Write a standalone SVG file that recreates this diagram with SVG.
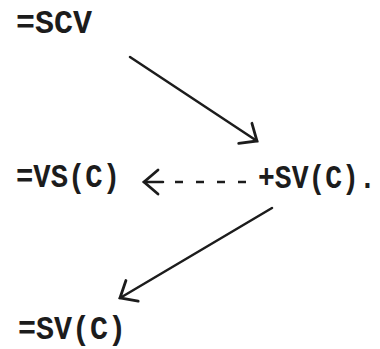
<svg xmlns="http://www.w3.org/2000/svg" width="380" height="349" viewBox="0 0 380 349">
  <style>
    .lbl { font-family: "Liberation Mono", "Courier New", monospace; font-size: 33px; font-weight: bold; fill: #1c1c1c; }
    .edge { stroke: #1c1c1c; stroke-width: 2.5; fill: none; stroke-linecap: round; }
    .dash { stroke-dasharray: 8 13; stroke-linecap: butt; }
  </style>
  <defs>
    <marker id="open" markerUnits="userSpaceOnUse" markerWidth="24" markerHeight="30" viewBox="-20 -15 24 30" refX="0" refY="0" orient="auto" overflow="visible">
      <path d="M-14,-12 L0,0 L-14,12" fill="none" stroke="#1c1c1c" stroke-width="2.8" stroke-linecap="round" stroke-linejoin="miter"/>
    </marker>
  </defs>
  <rect width="380" height="349" fill="#ffffff"/>
  <g id="node-scv">
    <text class="lbl" x="16" y="33" textLength="76" lengthAdjust="spacingAndGlyphs">=SCV</text>
  </g>
  <g id="node-vs-c">
    <text class="lbl" x="16" y="187" textLength="104" lengthAdjust="spacingAndGlyphs">=VS(C)</text>
  </g>
  <g id="node-plus-sv-c">
    <text class="lbl" transform="translate(258,188) scale(0.85,1)" x="0" y="0">+SV(C).</text>
  </g>
  <g id="node-sv-c">
    <text class="lbl" x="18" y="339" textLength="108" lengthAdjust="spacingAndGlyphs">=SV(C)</text>
  </g>
  <g id="connectors">
    <line class="edge" x1="130" y1="57" x2="257" y2="141" marker-end="url(#open)"/>
    <line class="edge" x1="272" y1="208" x2="120" y2="298" marker-end="url(#open)"/>
    <line class="edge dash" x1="175" y1="182" x2="248" y2="182"/>
    <line class="edge" x1="163" y1="182" x2="144" y2="182" marker-end="url(#open)"/>
  </g>
</svg>
